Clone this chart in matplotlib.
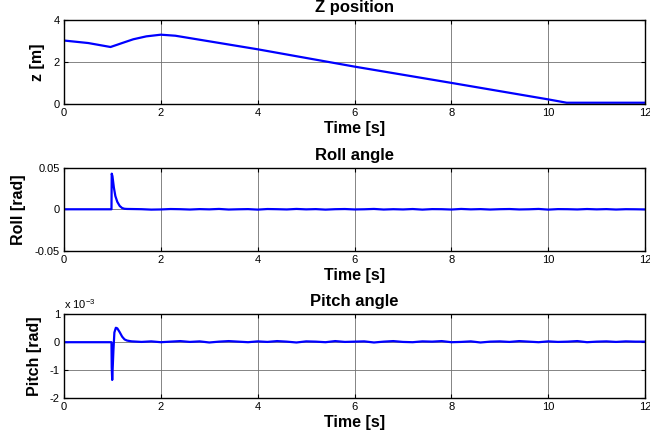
import numpy as np
import matplotlib
matplotlib.use("Agg")
import matplotlib.pyplot as plt

plt.rcParams["font.family"] = ["Liberation Sans", "DejaVu Sans"]
plt.rcParams["mathtext.fontset"] = "custom"
plt.rcParams["mathtext.rm"] = "Liberation Sans"

# Z position (m)
z_time = [0, 0.5, 0.96, 1.1, 1.2, 1.43, 1.7, 2.0, 2.3, 4, 6, 8, 10, 10.38, 12]
z_vals = [3.04, 2.92, 2.73, 2.84, 2.92, 3.1, 3.24, 3.32, 3.27, 2.62, 1.79, 1.01, 0.22, 0.06, 0.06]

# Roll angle (rad): step response then small noise
roll_time_a = [0, 0.98, 0.985, 1.0, 1.03, 1.06, 1.1, 1.15, 1.2, 1.25, 1.3]
roll_vals_a = [0, 0, 0.043, 0.040, 0.026, 0.016, 0.009, 0.004, 0.0015, 0.0006, 0.0004]
roll_noise = [0.0003, 0.0001, -0.0004, -0.0002, 0.0003, 0.0001, -0.0003, 0.0002,
              -0.0001, 0.0004, -0.0003, 0.0, 0.0002, -0.0004, 0.0003, 0.0001,
              -0.0002, 0.0004, -0.0001, 0.0002, -0.0004, 0.0001, 0.0003, -0.0002,
              0.0, 0.0004, -0.0003, 0.0001, -0.0002, 0.0003, -0.0004, 0.0002,
              0.0001, -0.0003, 0.0004, -0.0001, 0.0002, -0.0003, 0.0001, 0.0003,
              -0.0002, 0.0, 0.0004, -0.0004, 0.0002, 0.0001, -0.0002, 0.0003,
              -0.0001, 0.0002, -0.0003, 0.0001, 0.0, -0.0002]

# Pitch angle (x 1e-3 rad)
pitch_time_a = [0, 0.98, 0.985, 0.995, 1.02, 1.04, 1.07, 1.1, 1.15, 1.2, 1.25, 1.3, 1.36]
pitch_vals_a = [0, 0, -0.9, -1.36, -0.3, 0.35, 0.52, 0.5, 0.36, 0.2, 0.1, 0.06, 0.04]
pitch_noise = [0.03, 0.01, 0.03, 0.0, 0.02, 0.04, 0.01, 0.03, -0.01, 0.02,
               0.04, 0.02, 0.0, 0.03, 0.01, 0.04, 0.02, -0.01, 0.03, 0.02,
               0.0, 0.04, 0.01, 0.02, 0.03, -0.01, 0.02, 0.04, 0.01, 0.0,
               0.03, 0.02, 0.04, 0.0, 0.01, 0.03, -0.01, 0.02, 0.03, 0.01,
               0.04, 0.02, 0.0, 0.03, 0.01, 0.02, 0.04, 0.0, 0.02, 0.03,
               0.01, 0.03, 0.02, 0.02]

noise_time = np.linspace(1.4, 12, len(roll_noise))
roll_time = list(roll_time_a) + list(noise_time)
roll_vals = list(roll_vals_a) + roll_noise
pitch_time = list(pitch_time_a) + list(noise_time)
pitch_vals = list(pitch_vals_a) + pitch_noise

x_ticks = [0, 2, 4, 6, 8, 10, 12]

fig = plt.figure(figsize=(6.5, 4.36), dpi=100)
ax1 = fig.add_axes([0.0985, 0.7615, 0.894, 0.1915])
ax2 = fig.add_axes([0.0985, 0.425, 0.894, 0.190])
ax3 = fig.add_axes([0.0985, 0.0878, 0.894, 0.191])

panels = [
    (ax1, z_time, z_vals, "Z position", "z [m]", (0, 4), [0, 2, 4], ["0", "2", "4"]),
    (ax2, roll_time, roll_vals, "Roll angle", "Roll [rad]", (-0.05, 0.05),
     [-0.05, 0, 0.05], ["-0.05", "0", "0.05"]),
    (ax3, pitch_time, pitch_vals, "Pitch angle", "Pitch [rad]", (-2, 1),
     [-2, -1, 0, 1], ["-2", "-1", "0", "1"]),
]

for ax, t, v, title, ylab, ylim, yt, ytl in panels:
    ax.plot(t, v, color="#0000ff", lw=1.6)
    ax.set_xlim(0, 12)
    ax.set_ylim(*ylim)
    ax.set_xticks(x_ticks)
    ax.set_xticklabels([str(x) for x in x_ticks])
    ax.set_yticks(yt)
    ax.set_yticklabels(ytl)
    ax.grid(True, color="#707070", lw=0.6)
    ax.tick_params(direction="in", length=3, labelsize=8, top=True, right=True, pad=3)
    for s in ax.spines.values():
        s.set_linewidth(1.0)
    ax.set_title(title, fontsize=12, fontweight="bold", pad=6)
    ax.set_xlabel("Time [s]", fontsize=11.5, fontweight="bold", labelpad=2)
    ax.set_ylabel(ylab, fontsize=11.5, fontweight="bold", labelpad=6)

ax3.text(0.0, 1.04, r"x 10$^{-3}$", transform=ax3.transAxes, fontsize=8,
         ha="left", va="bottom")

fig.savefig("out.png", dpi=100)
